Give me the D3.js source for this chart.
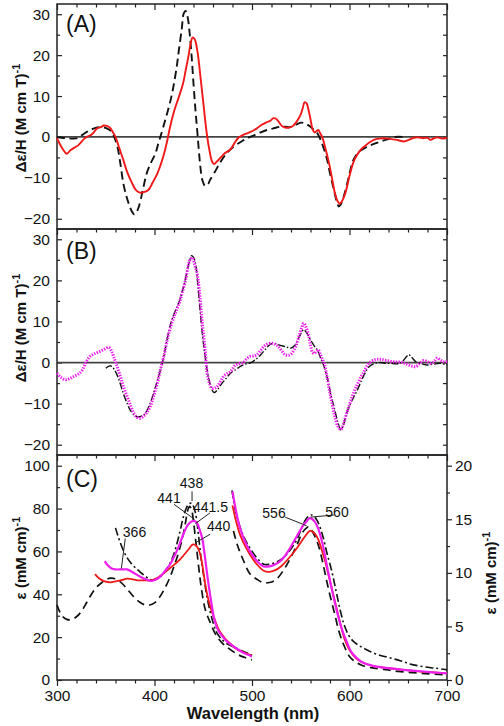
<!DOCTYPE html>
<html><head><meta charset="utf-8">
<script src="https://cdn.jsdelivr.net/npm/d3@7"></script>
<style>body{margin:0;background:#fff} text{font-family:"Liberation Sans",Arial,sans-serif;fill:#111}</style>
</head><body><svg id="c" width="504" height="726"></svg>
<script>
// ---------- DATA ----------
const xTicks = [300, 400, 500, 600, 700];
const mcdTicks = [-20, -10, 0, 10, 20, 30];
const absLeftTicks = [0, 20, 40, 60, 80, 100];
const absRightTicks = [0, 5, 10, 15, 20];
const panelLabels = ["(A)", "(B)", "(C)"];

// Panel A : MCD, red solid & black dashed
const aRed = [[300,-0.3],[303,-1.8],[306,-3],[310,-4.1],[314,-3.2],[318,-2.6],[322,-2],[324,-1.5],[328,-0.4],[331,0.1],[335,0.5],[338,1.2],[341,2.1],[345,2.4],[348,2.8],[351,2.7],[354,2.3],[357,1.3],[360,0],[364,-2.8],[368,-5.6],[372,-8.6],[377,-11.3],[381,-13],[385,-13.6],[389,-13.5],[394,-12.9],[398,-11.2],[403,-8.9],[406,-7],[409,-4.8],[413,-1],[416,2.5],[420,6.2],[425,9.8],[429,12.8],[432,16.3],[435,20],[437,22.8],[439,24.3],[441,24],[444,21],[447,15],[450,8.5],[453,2],[456,-2.8],[459,-6],[461,-6.6],[464,-6],[468,-5],[472,-4],[478,-3],[482,-1.5],[486,-0.2],[490,0.4],[495,0.9],[500,1.4],[505,2.1],[510,3],[515,3.6],[519,4],[522,4.6],[525,4.4],[528,3.5],[531,2.6],[534,2.3],[538,2.3],[542,2.7],[546,3.8],[550,5.5],[552,7],[554,8.5],[556,8.2],[558,6.6],[560,4.3],[562,2],[564,1.1],[566,1.4],[568,1.7],[570,0.9],[572,0],[575,-2.5],[579,-6.4],[582,-10],[585,-13.7],[588,-15.8],[590,-16.3],[592,-15.8],[596,-13.5],[600,-9.5],[604,-6.2],[608,-4.3],[612,-3],[615,-2.4],[620,-1.4],[625,-0.7],[630,-0.4],[635,-0.3],[640,-0.4],[645,-0.6],[650,-0.8],[656,-1.1],[660,-0.8],[666,-0.2],[670,-0.1],[676,-0.3],[680,-0.2],[683,-0.7],[687,-0.3],[690,-0.1],[695,-0.4],[700,-0.2]];
const aBlack = [[300,0],[305,-0.2],[310,-0.3],[316,-0.4],[321,-0.3],[326,0.5],[331,1.3],[336,1.9],[341,2.3],[346,2.4],[351,2.1],[356,1.3],[359,-0.2],[362,-2.4],[365,-6.5],[368,-11.3],[371,-14.3],[374,-16.6],[377,-18.3],[379,-18.9],[381,-18.6],[384,-17],[388,-13],[392,-8.9],[396,-6.5],[401,-4],[404,-1.5],[406,0],[410,3.3],[413,5.8],[417,9.5],[420,13.1],[423,17.5],[425,21.2],[428,26.5],[430,30.2],[432,30.8],[434,29.3],[436,25.5],[438,20],[440,13],[442,6.6],[444,1],[447,-7.2],[449,-10.5],[452,-12],[455,-11.5],[457,-10.5],[462,-8.5],[468,-6],[474,-4],[481,-2.4],[490,-1],[498,0],[506,0.8],[515,1.7],[522,2.1],[529,2.5],[534,2.5],[539,2.4],[545,3],[551,3.5],[555,3.2],[560,2.5],[564,1.6],[567,0.9],[570,-0.5],[573,-2.4],[577,-5.5],[580,-8.9],[584,-12.9],[587,-15.8],[589,-17],[591,-16.5],[594,-14.6],[598,-11],[601,-8],[604,-5.6],[610,-3.6],[618,-2.4],[625,-1.7],[632,-1.1],[640,-0.5],[647,0],[655,0]];

// Panel B : MCD, magenta dotted & black dash-dot
const bMagenta = [[300,-2.6],[304,-3.6],[309,-4.2],[313,-3.9],[317,-3.4],[322,-2.8],[326,-1.8],[330,0.2],[334,1.5],[339,2.2],[344,2.7],[349,3.3],[353,3.7],[356,2.8],[358,1.5],[361,-0.5],[365,-3.4],[368,-5.8],[372,-8.3],[376,-10.8],[379,-12.4],[382,-13.3],[385,-13.6],[388,-13.2],[392,-12.2],[396,-10.5],[399,-8.3],[403,-5],[406,-1.8],[410,2],[413,5.5],[417,9],[420,11.2],[423,13],[426,14.9],[429,17.5],[432,20.2],[435,24],[437,25.2],[439,25.5],[441,24],[444,21.3],[447,15],[449,9.6],[452,3],[454,-2.6],[457,-5.5],[459,-6.3],[462,-6.2],[464,-5.9],[468,-4.5],[471,-3.3],[475,-2.6],[478,-2.2],[481,-1.2],[483,-0.6],[487,-0.3],[491,0],[494,0.8],[498,1.5],[502,1.6],[505,1.9],[509,3],[512,3.9],[516,4.5],[521,4.7],[524,4.4],[527,3.9],[531,2.7],[534,1.9],[538,1.8],[541,2.3],[545,4],[548,6.3],[551,8.5],[553,9.6],[555,8.8],[558,6.7],[560,4.2],[562,2.5],[564,2.2],[566,2.8],[568,3.1],[570,2],[574,-0.2],[577,-3.5],[580,-7.5],[583,-11],[585,-13.2],[588,-15.5],[591,-16.3],[593,-15.5],[596,-13.2],[600,-10.2],[604,-7.5],[608,-5.3],[612,-3.4],[615,-2.2],[618,-0.8],[621,0],[625,0.6],[628,0.8],[632,0.8],[638,0.5],[645,0.2],[652,0.1],[657,-0.2],[661,-0.6],[665,-0.9],[668,-1],[672,-0.2],[676,0.5],[680,0.2],[683,-0.2],[687,0.3],[690,1.1],[694,0.5],[697,0.2],[700,0.3]];
const bBlack = [[350,-1.4],[355,-0.8],[360,-2.2],[364,-4.5],[368,-7.5],[372,-10],[375,-11.5],[379,-12.8],[382,-13.2],[386,-13.1],[389,-12.8],[394,-10.8],[399,-7.5],[404,-3.5],[408,-0.2],[412,4.5],[415,8],[418,10.5],[421,12.4],[425,14.6],[428,16.9],[431,19.6],[433,21.8],[436,24.8],[438,26],[440,25.6],[442,24.2],[444,20],[447,12],[450,5],[454,-1.8],[457,-5.2],[461,-7.3],[464,-6.8],[468,-5.4],[473,-4],[478,-2.6],[484,-1.6],[489,-0.8],[494,-0.3],[499,0],[504,0.8],[509,1.9],[514,3.3],[519,4.5],[524,4.6],[530,4.1],[535,3.8],[540,3.5],[544,4.2],[547,5.5],[550,7],[553,8],[556,7.2],[560,5.5],[564,4],[567,3.1],[570,1.3],[574,-1],[578,-4.5],[581,-8],[584,-10.7],[588,-14.5],[591,-16.4],[594,-15],[597,-12.4],[602,-9.5],[608,-6.7],[614,-3.5],[620,-1],[626,-0.2],[632,0],[637,-0.2],[642,-0.2],[648,-0.3],[652,-0.2],[656,0.7],[659,1.6],[661,1.9],[664,1.2],[668,0.2],[674,-0.3],[679,-0.6],[686,-0.4],[693,-0.2],[700,-0.6]];

// Panel C : absorption, Soret region (left axis, 1/(mM cm))
const cDashSoret = [[300,35],[305,30],[310,28.3],[315,28.2],[320,29.5],[325,32],[330,35.8],[335,39.8],[340,43],[346,45.5],[350,46.8],[355,47.5],[360,47.2],[365,45.8],[370,43.5],[375,40.8],[380,38.2],[385,36.3],[390,35.1],[395,35],[400,36],[405,38.5],[410,42.3],[415,47],[420,53],[425,60],[429,67],[432,74],[434,79],[436,81],[438,79.5],[440,74],[442,66],[444,58],[446,50],[448,43],[452,33],[457,27],[463,21],[470,17],[476,14.8],[485,12],[492,10.6],[500,9.4]];
const cDotDashSoret = [[360,71],[362,68],[365,64],[368,60.5],[372,57],[376,54.5],[380,52.5],[385,50.5],[390,48.7],[395,47],[399,46.6],[404,47.5],[409,49.5],[414,53],[418,56.5],[422,62],[426,69],[429,75],[432,79.5],[435,82],[438,82.5],[440,81],[442,78],[444,72],[446,64],[448,56],[450,50],[453,41],[456,34],[460,27],[464,22],[470,18.5],[476,16.5],[482,15.3],[490,13.5],[500,11.6]];
const cRedSoret = [[339,49.4],[343,47.5],[349,46],[355,45.6],[360,46],[366,46.6],[372,47.3],[378,47],[384,46.5],[390,46.5],[396,46.5],[402,47.4],[408,49.3],[414,51.5],[420,53.7],[426,56.2],[431,58.8],[435,61],[438,62.8],[440,63.3],[442,63],[444,62],[446,60],[448,56.5],[450,51],[452,45],[455,38],[458,33],[462,28],[466,23.5],[472,19.6],[478,16.8],[484,14.5],[492,12.8],[500,11.4]];
const cMagentaSoret = [[349,55.5],[352,53.5],[356,52],[360,51.6],[366,51.6],[372,51.6],[378,50.2],[385,48.3],[391,47],[397,46.2],[402,47],[406,48.3],[411,51],[416,54],[420,57.5],[425,62.5],[430,68.5],[434,72.3],[438,74],[441,74.2],[444,73],[446,70.5],[449,66],[451,60],[453,53],[455,46],[458,37],[461,29],[465,23.5],[471,19.6],[476,17.3],[481,15.7],[490,13],[500,11]];

// Panel C : visible region (right axis, 1/(mM cm))
const cDashVis = [[481,13.9],[485,12.6],[491,11.2],[498,9.9],[505,9.4],[511,9.1],[518,9.1],[525,9.4],[532,10.2],[539,11.3],[546,12.6],[552,13.8],[556,14.2],[558,14.3],[561,14.0],[564,13.5],[568,12.6],[572,11.2],[576,9.5],[580,7.9],[585,6.1],[589,4.6],[594,3.3],[600,2.2],[606,1.7],[612,1.4],[622,1.15],[635,1.0],[650,0.8],[670,0.65],[700,0.47]];
const cDotDashVis = [[479.5,17.7],[483,15.8],[488,14.2],[493,13.1],[498,12.3],[505,11.4],[512,10.8],[518,10.8],[525,11],[532,11.4],[539,12.1],[546,13.1],[551,14.2],[556,15.1],[561,15.4],[566,15],[570,14.2],[573,13.3],[577,11.8],[582,10.1],[586,8.4],[590,6.7],[594,5.3],[599,4.2],[604,3.6],[610,3.2],[618,2.8],[628,2.4],[640,2.1],[652,1.8],[662,1.5],[675,1.25],[688,1.1],[700,0.96]];
const cRedVis = [[480,16.3],[484,14.7],[488,13.5],[493,12.5],[498,11.7],[505,10.8],[512,10.2],[518,10.1],[525,10.3],[532,10.8],[539,11.5],[546,12.3],[552,13.1],[556,13.6],[559,13.9],[562,13.85],[565,13.6],[568,13.1],[571,12.3],[575,11.1],[579,9.6],[583,8.1],[587,6.6],[591,5.1],[595,3.8],[600,2.8],[606,2.1],[612,1.7],[620,1.4],[635,1.15],[650,1.0],[670,0.8],[700,0.62]];
const cMagentaVis = [[480,17.6],[484,15.6],[488,14.1],[493,12.9],[498,12.0],[505,11.1],[512,10.6],[518,10.6],[524,10.8],[529,11.1],[534,11.6],[539,12.3],[544,13.1],[549,13.9],[553,14.5],[556,14.8],[559,15.1],[562,15.0],[565,14.7],[568,14.1],[571,13.2],[574,12.0],[577,10.6],[580,9.3],[584,7.6],[588,6.1],[592,4.8],[597,3.6],[602,2.6],[608,2.0],[614,1.6],[625,1.3],[640,1.1],[655,0.95],[670,0.84],[685,0.72],[700,0.62]];

// Peak annotations: [label, label wavelength, label value(left axis), point wavelength, point value(left axis)]
const peakLabels = [
  ["438", 438.5, 88, 438.5, 83.5],
  ["441", 420, 82, 441, 75],
  ["441.5", 457, 78, 442, 73],
  ["440", 457, 68, 442, 64],
  ["366", 370, 66, 366, 52],
  ["556", 534, 76, 556, 72],
  ["560", 584, 77, 560, 76]
];

// ---------- DRAW ----------
const RED = "#f01818", MAG = "#ee1fee";
const svg = d3.select("#c");
const X0 = 57, X1 = 447;
const x = d3.scaleLinear().domain([300, 700]).range([X0, X1]);
const yA = d3.scaleLinear().domain([-22.5, 32.5]).range([229, 4]);
const yB = d3.scaleLinear().domain([-22.5, 32.5]).range([455, 229]);
const yC = d3.scaleLinear().domain([0, 105]).range([680, 455]);
const yC2 = d3.scaleLinear().domain([0, 21]).range([680, 455]);

const minor20 = d3.range(300, 701, 20);
function styleAxis(g) {
  g.select(".domain").remove();
  g.selectAll("line").attr("stroke", "#222").attr("stroke-width", 1.2);
  g.selectAll("text").style("font-size", "15.5px").style("fill", "#111");
}
function topTicks(yTop) {
  svg.append("g").attr("transform", `translate(0,${yTop})`)
    .call(d3.axisTop(x).tickValues(minor20.filter(v => v % 100)).tickSize(-3.5).tickFormat("")).call(styleAxis);
  svg.append("g").attr("transform", `translate(0,${yTop})`)
    .call(d3.axisTop(x).tickValues(xTicks).tickSize(-6).tickFormat("")).call(styleAxis);
}
function mcdPanel(y, yTop, yBot) {
  svg.append("g").attr("transform", `translate(${X0},0)`)
    .call(d3.axisLeft(y).tickValues(mcdTicks).tickSize(-5).tickPadding(7).tickFormat(d3.format("d"))).call(styleAxis);
  svg.append("g").attr("transform", `translate(${X0},0)`)
    .call(d3.axisLeft(y).tickValues([-15,-5,5,15,25]).tickSize(-3).tickFormat("")).call(styleAxis);
  svg.append("g").attr("transform", `translate(${X1},0)`)
    .call(d3.axisRight(y).tickValues(d3.range(-20, 31, 5)).tickSize(-4).tickFormat("")).call(styleAxis);
  topTicks(yTop);
  // zero line
  svg.append("line").attr("x1", X0).attr("x2", X1).attr("y1", y(0)).attr("y2", y(0))
    .attr("stroke", "#444").attr("stroke-width", 1.8);
}
mcdPanel(yA, 4, 229);
mcdPanel(yB, 229, 455);

// Panel C axes
svg.append("g").attr("transform", `translate(${X0},0)`)
  .call(d3.axisLeft(yC).tickValues(absLeftTicks).tickSize(-5).tickPadding(7)).call(styleAxis);
svg.append("g").attr("transform", `translate(${X0},0)`)
  .call(d3.axisLeft(yC).tickValues([10,30,50,70,90]).tickSize(-3).tickFormat("")).call(styleAxis);
svg.append("g").attr("transform", `translate(${X1},0)`)
  .call(d3.axisRight(yC2).tickValues(absRightTicks).tickSize(5).tickPadding(3)).call(styleAxis);
svg.append("g").attr("transform", `translate(${X1},0)`)
  .call(d3.axisRight(yC2).tickValues([2.5,7.5,12.5,17.5]).tickSize(3).tickFormat("")).call(styleAxis);
topTicks(455);
svg.append("g").attr("transform", `translate(0,680)`)
  .call(d3.axisBottom(x).tickValues(xTicks).tickSize(6).tickPadding(4)).call(styleAxis);
svg.append("g").attr("transform", `translate(0,680)`)
  .call(d3.axisBottom(x).tickValues(minor20.filter(v => v % 100)).tickSize(3.5).tickFormat("")).call(styleAxis);

// frames
[[4,229],[229,455],[455,680]].forEach(([t,b]) => {
  svg.append("rect").attr("x", X0).attr("y", t).attr("width", X1 - X0).attr("height", b - t)
    .attr("fill", "none").attr("stroke", "#222").attr("stroke-width", 1.5);
});

// lines
function draw(data, xs, ys, color, width, dash, cap) {
  const line = d3.line().x(d => xs(d[0])).y(d => ys(d[1])).curve(d3.curveCatmullRom.alpha(0.5));
  svg.append("path").datum(data).attr("d", line).attr("fill", "none")
    .attr("stroke", color).attr("stroke-width", width)
    .attr("stroke-dasharray", dash || null).attr("stroke-linecap", cap || "butt")
    .attr("stroke-linejoin", "round");
}
draw(aBlack, x, yA, "#111", 1.9, "8,4.5");
draw(aRed, x, yA, RED, 1.9);

draw(bBlack, x, yB, "#111", 1.4, "7,2,1.5,2");
draw(bMagenta, x, yB, MAG, 3, "1.4,1.3");

draw(cDashSoret, x, yC, "#111", 1.7, "8,5");
draw(cDotDashSoret, x, yC, "#111", 1.6, "8,3,2,3");
draw(cRedSoret, x, yC, RED, 1.8);
draw(cMagentaSoret, x, yC, MAG, 2.2);
draw(cDashVis, x, yC2, "#111", 1.7, "8,5");
draw(cDotDashVis, x, yC2, "#111", 1.6, "8,3,2,3");
draw(cRedVis, x, yC2, RED, 1.8);
draw(cMagentaVis, x, yC2, MAG, 2.2);

// peak annotations
peakLabels.forEach(([t, lx, ly, px, py]) => {
  svg.append("line").attr("x1", x(lx)).attr("y1", yC(ly)).attr("x2", x(px)).attr("y2", yC(py))
    .attr("stroke", "#222").attr("stroke-width", 1);
});
const annoText = [["438", 191.5, 488, "middle"], ["441", 169, 503, "middle"], ["441.5", 193, 512, "start"],
                  ["440", 207, 531, "start"], ["366", 134.5, 537, "middle"], ["556", 274, 518, "middle"], ["560", 337, 517, "middle"]];
annoText.forEach(([t, ax, ay, anc]) => {
  svg.append("text").attr("x", ax).attr("y", ay).attr("text-anchor", anc).style("font-size", "14px").text(t);
});

// panel labels
[[32,0],[259,1],[487,2]].forEach(([yy,i]) => {
  svg.append("text").attr("x", 66).attr("y", yy).style("font-size", "23px").text(panelLabels[i]);
});

// axis titles
function yTitle(cx, cy, main, rot) {
  const t = svg.append("text").attr("transform", `translate(${cx},${cy}) rotate(${rot})`)
    .attr("text-anchor", "middle").style("font-size", "15px").style("font-weight", "bold");
  t.append("tspan").text(main);
  t.append("tspan").attr("dy", -6).style("font-size", "11px").text("-1");
}
yTitle(26, 118, "Δε/H (M cm T)", -90);
yTitle(26, 328, "Δε/H (M cm T)", -90);
yTitle(26, 558, "ε (mM cm)", -90);
yTitle(496, 573, "ε (mM cm)", -90);

svg.append("text").attr("x", 253).attr("y", 719).attr("text-anchor", "middle")
  .style("font-size", "16.5px").style("font-weight", "bold").text("Wavelength (nm)");
</script></body></html>
